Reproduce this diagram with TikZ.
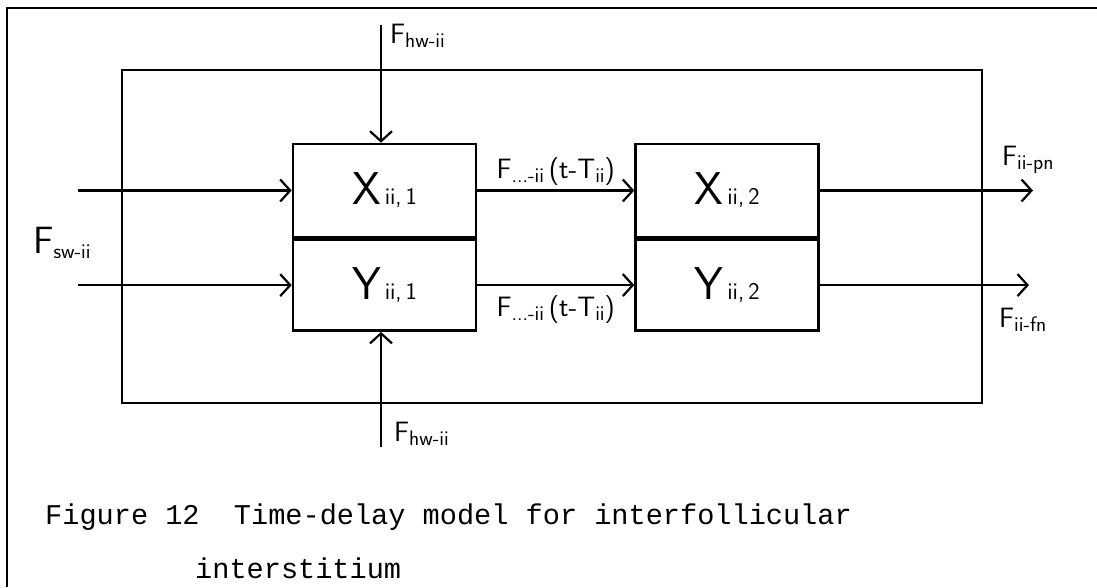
\documentclass[tikz,border=0pt]{standalone}
\usepackage{fontspec}
\setmonofont{Liberation Mono}
\usetikzlibrary{arrows.meta, positioning}
\newcommand{\lo}[1]{\raisebox{-0.35ex}{\fontsize{21}{21}\selectfont #1}}
\newcommand{\bsub}[1]{{\fontsize{24}{24}\selectfont\,#1}}
\tikzset{
  box/.style={
    draw,
    line width=2.6pt,
    minimum width=183pt,
    inner sep=0pt,
    font=\fontsize{46}{46}\selectfont\sffamily
  },
  hand/.style={
    inner sep=0pt,
    font=\fontsize{28}{28}\selectfont\sffamily
  },
  caption/.style={
    inner sep=0pt,
    font=\fontsize{28.6}{30}\selectfont\ttfamily
  },
  every edge/.style={
    draw,
    line width=2.4pt,
    -{Straight Barb[length=10pt, width=22pt, line width=2.2pt]}
  }
}

\begin{document}
\begin{tikzpicture}[x=1pt, y=-1pt]
          \useasboundingbox (0,0) rectangle (1097,587);
          % page edge and interstitium compartment
          \draw[line width=2.2pt] (7,587) -- (7,8) -- (1097,8);
          \draw[line width=2.6pt] (122,70) rectangle (982,403);

          \node[box, minimum height=93pt] (xone) at (384.5,190.5) {X\bsub{ii,\,1}};
          \node[box, minimum height=91pt, below=0pt of xone] (yone) {Y\bsub{ii,\,1}};
          \node[box, minimum height=93pt, right=157pt of xone] (xtwo) {X\bsub{ii,\,2}};
          \node[box, minimum height=91pt, below=0pt of xtwo] (ytwo) {Y\bsub{ii,\,2}};

          \coordinate (swx) at (78,0);
          \coordinate (outx) at (1033,0);
          \coordinate (hwtop) at (381,25);
          \coordinate (hwbot) at (381,447);

          \path (swx |- xone) edge (xone.west)
                (swx |- yone) edge (yone.west)
                (xone.east) edge node[hand, above=4pt]{F\lo{...-ii}\,(t-T\lo{ii})} (xtwo.west)
                (yone.east) edge node[hand, below=9pt]{F\lo{...-ii}\,(t-T\lo{ii})} (ytwo.west)
                (xtwo.east) edge (outx |- xtwo)
                (ytwo.east) edge ([xshift=-4pt]outx |- ytwo)
                (hwtop) edge (hwtop |- xone.north)
                (hwbot) edge (hwbot |- yone.south);

          \node[hand, anchor=west] (hwin) at (390,36) {F\lo{hw-ii}};
          \node[hand, anchor=west] (hwout) at (394,434) {F\lo{hw-ii}};
          \node[hand, anchor=west, font=\fontsize{38}{40}\selectfont\sffamily] (swin) at (33,243) {F\lo{sw-ii}};
          \node[hand, anchor=west] (pnout) at (1002,160) {F\lo{ii-pn}};
          \node[hand, anchor=west] (fnout) at (999,320) {F\lo{ii-fn}};

          \node[caption, anchor=west] (cap) at (45,517) {Figure 12\ \ Time-delay model for interfollicular};
          \node[caption, anchor=west] (capb) at (195,568) {interstitium};
        \end{tikzpicture}
\end{document}
